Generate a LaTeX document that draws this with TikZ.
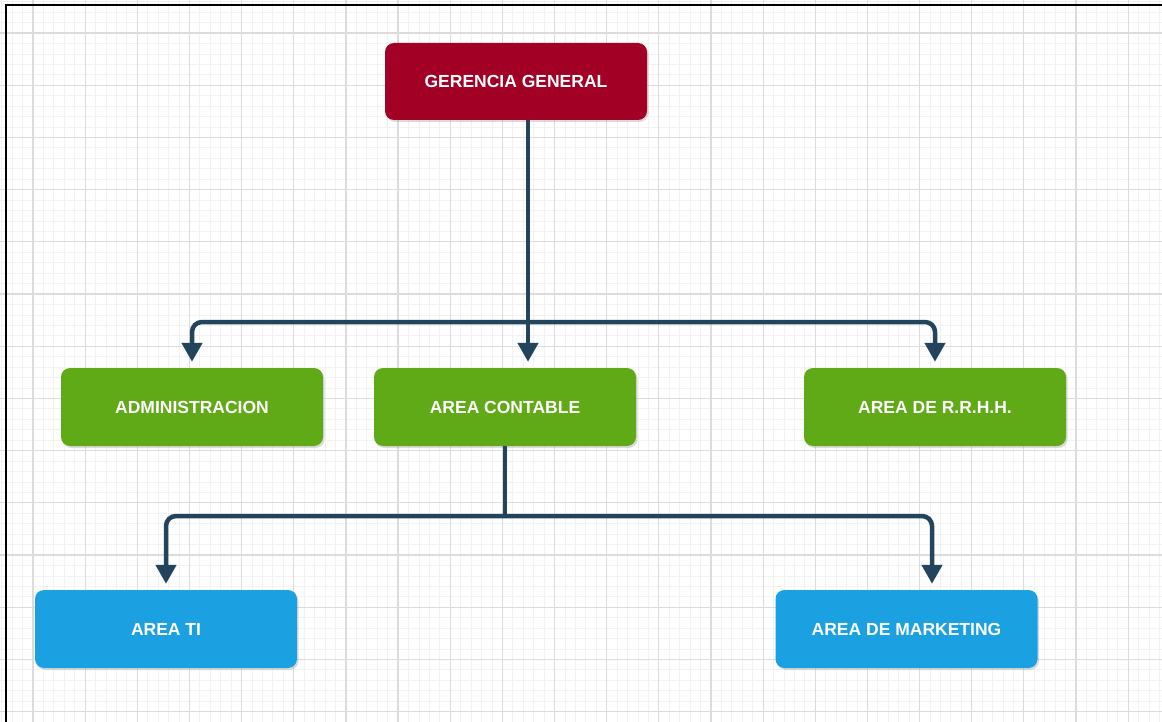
\documentclass[tikz,border=0pt]{standalone}
\usepackage{fontspec}
\setmainfont{Liberation Sans}
\usetikzlibrary{arrows.meta,calc}

\definecolor{boxred}{HTML}{A20025}
\definecolor{boxgreen}{HTML}{60A917}
\definecolor{boxblue}{HTML}{1BA1E2}
\definecolor{wire}{HTML}{23445D}
\definecolor{gridmajor}{HTML}{DCDCDC}
\definecolor{gridminor}{HTML}{F2F2F2}

\tikzset{
  unit/.style={
    draw=none, rounded corners=9pt, minimum width=262pt, minimum height=78pt,
    text=white, font=\fontsize{17.5}{20}\selectfont\bfseries, inner sep=0pt,
    preaction={fill=black!40, opacity=0.35, transform canvas={xshift=1.5pt,yshift=-2pt}}
  },
  redbox/.style={unit, fill=boxred},
  greenbox/.style={unit, fill=boxgreen},
  bluebox/.style={unit, fill=boxblue},
  conn/.style={draw=wire, line width=4.5pt, rounded corners=10pt,
    -{Triangle[width=20pt,length=19pt]}, shorten >=6pt},
  bus/.style={draw=wire, line width=4.5pt, rounded corners=10pt}
}

\begin{document}
\begin{tikzpicture}[x=1pt,y=-1pt]
  % canvas
  \useasboundingbox (0,0) rectangle (1162,722);
  \fill[white] (0,0) rectangle (1162,722);

  % fine grid
  \foreach \i in {0,...,111} {
    \draw[gridminor, line width=0.8pt] ({1.71+10.43*\i},0) -- ({1.71+10.43*\i},722);
  }
  \foreach \j in {0,...,69} {
    \draw[gridminor, line width=0.8pt] (0,{1.71+10.44*\j}) -- (1162,{1.71+10.44*\j});
  }
  % coarse grid
  \foreach \i in {0,...,22} {
    \draw[gridmajor, line width=1.2pt] ({33+52.15*\i},0) -- ({33+52.15*\i},722);
  }
  \foreach \j in {0,...,13} {
    \draw[gridmajor, line width=1.2pt] (0,{33+52.2*\j}) -- (1162,{33+52.2*\j});
  }

  % frame
  \draw[black, line width=2.5pt] (6,722) -- (6,5) -- (1162,5);

  % units
  \node[redbox, minimum height=77pt] (ger) at (516,81.5) {GERENCIA GENERAL};
  \node[greenbox] (adm)  at (192,407) {ADMINISTRACION};
  \node[greenbox] (cont) at (505,407) {AREA CONTABLE};
  \node[greenbox] (rrhh) at (935,407) {AREA DE R.R.H.H.};
  \node[bluebox]  (ti)   at (166,629) {AREA TI};
  \node[bluebox]  (mkt)  at (906.5,629) {AREA DE MARKETING};

  % junction points
  \coordinate (bus1) at ([xshift=12pt]ger.south |- 0,322);
  \coordinate (bus2) at (cont.south |- 0,516);

  % first level
  \draw[bus] ([xshift=12pt]ger.south) -- (bus1);
  \draw[conn] (bus1) -| (adm.north);
  \draw[conn] (bus1) -- (bus1 |- cont.north);
  \draw[conn] (bus1) -| (rrhh.north);

  % second level
  \draw[bus] (cont.south) -- (bus2);
  \draw[conn] (bus2) -| (ti.north);
  \draw[conn] (bus2) -| ([xshift=25.5pt]mkt.north);
\end{tikzpicture}
\end{document}
